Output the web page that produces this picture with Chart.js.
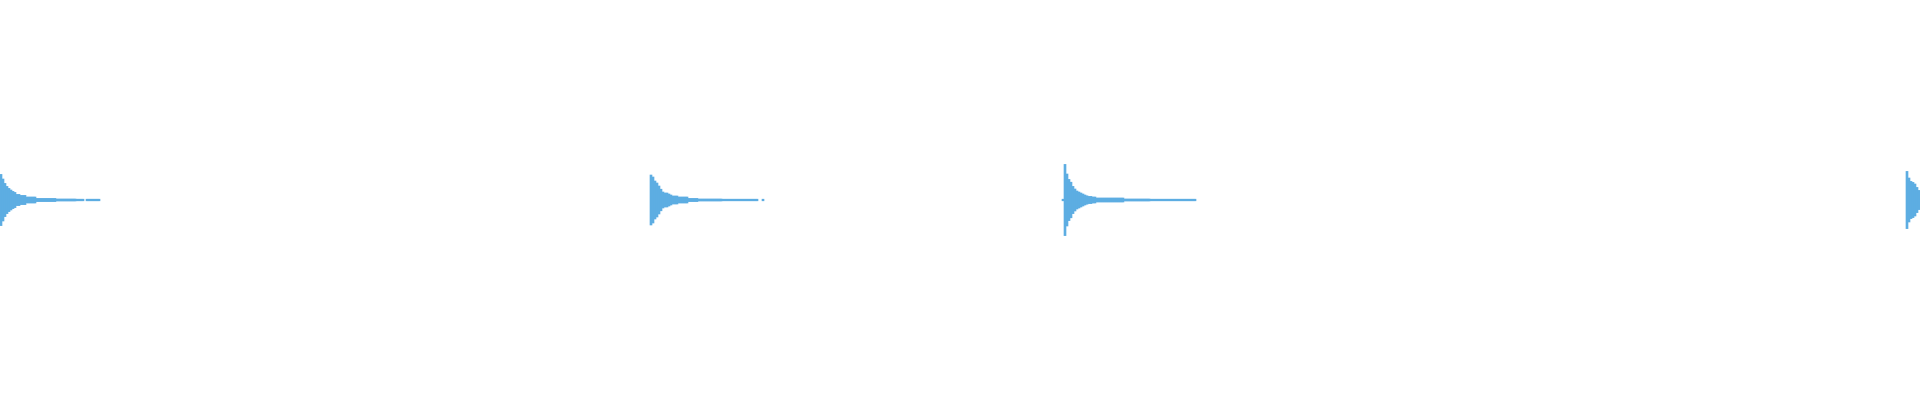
<!DOCTYPE html>
<html>
<head>
<meta charset="utf-8">
<title>Waveform</title>
<script src="https://cdn.jsdelivr.net/npm/chart.js@4.4.1/dist/chart.umd.min.js"></script>
<style>
    html, body { margin: 0; padding: 0; background: #ffffff; }
    #wrap { width: 1920px; height: 400px; }
</style>
</head>
<body>
<div id="wrap"><canvas id="waveChart"></canvas></div>
<script>
// Waveform: 960 bins across the width, each burst is a list of peak amplitudes
const binCount = 960;

// bin index where each burst starts
const burstStarts = [0, 325, 531, 953];

// peak amplitude per bin (0 = silent bin)
const burst1 = [
    0.128, 0.105, 0.083, 0.068, 0.058, 0.050, 0.043, 0.038, 0.028, 0.028,
    0.023, 0.023, 0.023, 0.015, 0.015, 0.015, 0.015, 0.015, 0.008, 0.008,
    0.008, 0.008, 0.008, 0.008, 0.008, 0.008, 0.008, 0.008, 0.005, 0.005,
    0.005, 0.005, 0.005, 0.005, 0.005, 0.005, 0.005, 0.005, 0.004, 0.004,
    0.004, 0.004, 0, 0.004, 0.004, 0.004, 0.004, 0.004, 0.004, 0.004
];
const burst2 = [
    0.125, 0.115, 0.095, 0.085, 0.070, 0.054, 0.040, 0.035, 0.035, 0.030,
    0.025, 0.020, 0.020, 0.020, 0.015, 0.015, 0.015, 0.015, 0.015, 0.008,
    0.008, 0.008, 0.008, 0.008, 0.005, 0.005, 0.005, 0.005, 0.005, 0.005,
    0.005, 0.005, 0.005, 0.005, 0.005, 0.005, 0.004, 0.004, 0.004, 0.004,
    0.004, 0.004, 0.004, 0.004, 0.004, 0.004, 0.004, 0.004, 0.004, 0.004,
    0.004, 0.004, 0.004, 0.004, 0, 0, 0.004
];
const burst3 = [
    0.004, 0.178, 0.130, 0.103, 0.089, 0.068, 0.055, 0.045, 0.040, 0.035,
    0.030, 0.025, 0.021, 0.018, 0.018, 0.015, 0.015, 0.010, 0.010, 0.010,
    0.010, 0.010, 0.010, 0.010, 0.010, 0.010, 0.010, 0.010, 0.010, 0.010,
    0.010, 0.005, 0.005, 0.005, 0.005, 0.005, 0.005, 0.005, 0.005, 0.005,
    0.005, 0.005, 0.005, 0.005, 0.004, 0.004, 0.004, 0.004, 0.004, 0.004,
    0.004, 0.004, 0.004, 0.004, 0.004, 0.004, 0.004, 0.004, 0.004, 0.004,
    0.004, 0.004, 0.004, 0.004, 0.004, 0.004, 0.004
];
const burst4 = [0.143, 0.110, 0.093, 0.088, 0.080, 0.063, 0.048];

const bursts = [burst1, burst2, burst3, burst4];

// Build the full series: symmetric floating bars [-a, a]
const labels = [];
const peaks = [];
for (let i = 0; i < binCount; i++) {
    labels.push(i);
    peaks.push(null);
}
bursts.forEach((burst, b) => {
    burst.forEach((amp, j) => {
        if (amp > 0) {
            peaks[burstStarts[b] + j] = [-amp, amp];
        }
    });
});

const ctx = document.getElementById('waveChart');
new Chart(ctx, {
    type: 'bar',
    data: {
        labels: labels,
        datasets: [{
            data: peaks,
            backgroundColor: '#5DADE2',
            borderWidth: 0,
            barPercentage: 1.0,
            categoryPercentage: 1.0
        }]
    },
    options: {
        responsive: true,
        maintainAspectRatio: false,
        animation: false,
        layout: { padding: 0 },
        plugins: {
            legend: { display: false },
            tooltip: { enabled: false }
        },
        scales: {
            x: { display: false },
            y: { display: false, min: -1, max: 1 }
        }
    }
});
</script>
</body>
</html>
